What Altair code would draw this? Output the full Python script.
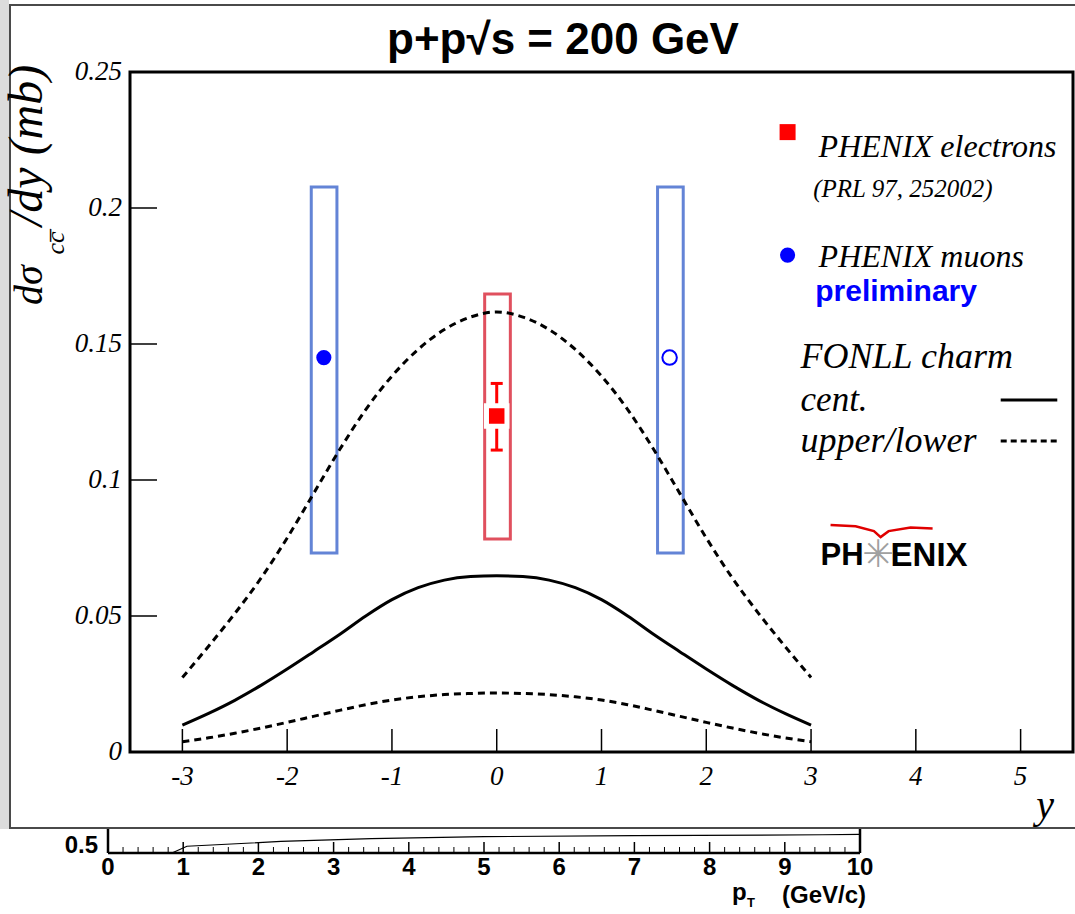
import altair as alt
import pandas as pd

# ---------------- data ----------------
rap = [-3.0, -2.75, -2.5, -2.25, -2.0, -1.75, -1.5, -1.25, -1.0, -0.75, -0.5, -0.25, 0.0,
       0.25, 0.5, 0.75, 1.0, 1.25, 1.5, 1.75, 2.0, 2.25, 2.5, 2.75, 3.0]
fonll_cent = [0.0099, 0.0142, 0.0190, 0.0245, 0.0305, 0.0368, 0.0432, 0.0500, 0.0560, 0.0604, 0.0632, 0.0645, 0.0648,
              0.0645, 0.0632, 0.0604, 0.0560, 0.0500, 0.0432, 0.0368, 0.0305, 0.0245, 0.0190, 0.0142, 0.0099]
fonll_upper = [0.0274, 0.0389, 0.0509, 0.0639, 0.0787, 0.0949, 0.1111, 0.1259, 0.1382, 0.1480, 0.1553, 0.1599, 0.1618,
               0.1599, 0.1553, 0.1480, 0.1382, 0.1259, 0.1111, 0.0949, 0.0787, 0.0639, 0.0509, 0.0389, 0.0274]
fonll_lower = [0.0038, 0.0052, 0.0069, 0.0088, 0.0109, 0.0131, 0.0153, 0.0174, 0.0191, 0.0203, 0.0211, 0.0215, 0.0217,
               0.0215, 0.0211, 0.0203, 0.0191, 0.0174, 0.0153, 0.0131, 0.0109, 0.0088, 0.0069, 0.0052, 0.0038]

muon_y = [-1.65, 1.65]
muon_val = [0.145, 0.145]
muon_sys_lo = [0.0732, 0.0732]
muon_sys_hi = [0.2077, 0.2077]
muon_box_x1 = [-1.77, 1.535]
muon_box_x2 = [-1.525, 1.78]

ele_y = [0.0]
ele_val = [0.1235]
ele_stat_lo = [0.111]
ele_stat_hi = [0.1355]
ele_sys_lo = [0.0783]
ele_sys_hi = [0.1684]
ele_box_x1 = [-0.115]
ele_box_x2 = [0.13]

x_ticks = [-3, -2, -1, 0, 1, 2, 3, 4, 5]
x_tick_labels = ["-3", "-2", "-1", "0", "1", "2", "3", "4", "5"]
y_ticks = [0, 0.05, 0.1, 0.15, 0.2, 0.25]
y_tick_labels = ["0", "0.05", "0.1", "0.15", "0.2", "0.25"]

# legend / annotation positions (data coordinates)
leg_marker_x = [2.776]
leg_ele_y = [0.2279]
leg_muon_y = [0.1827]
leg_text_x = 3.072
leg_cent_y = 0.1294
leg_ul_y = 0.1143
leg_line_x1 = 4.81
leg_line_x2 = 5.35

logo_swoosh_x = [3.186, 3.425, 3.600, 3.664, 3.740, 3.950, 4.160]
logo_swoosh_y = [0.0835, 0.0830, 0.0812, 0.0790, 0.0812, 0.0825, 0.0822]

# fragment of the neighbouring plot at the bottom of the screenshot
strip_ticks = [0, 1, 2, 3, 4, 5, 6, 7, 8, 9, 10]
strip_curve_x = [0.85, 1.05, 2.3, 3.5, 5.0, 7.0, 9.5, 10.0]
strip_curve_y = [0.47, 0.505, 0.53, 0.545, 0.555, 0.56, 0.565, 0.567]

# ---------------- chart ----------------
SERIF = "Liberation Serif"
SANS = "Liberation Sans"
NARROW = "Liberation Sans Narrow, Liberation Sans"
X = alt.Scale(domain=[-3.5, 5.5], nice=False, zero=False)
Y = alt.Scale(domain=[0, 0.25], nice=False, zero=False)
one = pd.DataFrame({"a": [0]})

curves = pd.DataFrame({"rap": rap, "cent": fonll_cent, "upper": fonll_upper, "lower": fonll_lower})

cent = alt.Chart(curves).mark_line(color="black", strokeWidth=3, interpolate="monotone").encode(
    x=alt.X("rap:Q", scale=X, axis=None), y=alt.Y("cent:Q", scale=Y, axis=None))
upper = alt.Chart(curves).mark_line(color="black", strokeWidth=3, strokeDash=[7, 5], interpolate="monotone").encode(
    x=alt.X("rap:Q", scale=X, axis=None), y=alt.Y("upper:Q", scale=Y, axis=None))
lower = alt.Chart(curves).mark_line(color="black", strokeWidth=3, strokeDash=[7, 5], interpolate="monotone").encode(
    x=alt.X("rap:Q", scale=X, axis=None), y=alt.Y("lower:Q", scale=Y, axis=None))

# axis ticks (drawn inward like the original) and labels
yt = pd.DataFrame({"v": y_ticks, "t": y_tick_labels})
ytick = alt.Chart(yt).transform_filter("datum.v > 0 && datum.v < 0.25").mark_rule(
    color="black", strokeWidth=1.5).encode(
    y=alt.Y("v:Q", scale=Y, axis=None), x=alt.value(0), x2=alt.value(27))
ylab = alt.Chart(yt).mark_text(font=SERIF, fontStyle="italic", fontSize=27, align="right",
                               baseline="middle", color="black").encode(
    y=alt.Y("v:Q", scale=Y, axis=None), x=alt.value(-8), text="t:N")
xt = pd.DataFrame({"v": x_ticks, "t": x_tick_labels})
xtick = alt.Chart(xt).mark_rule(color="black", strokeWidth=1.5).encode(
    x=alt.X("v:Q", scale=X, axis=None), y=alt.value(680), y2=alt.value(657))
xlab = alt.Chart(xt).mark_text(font=SERIF, fontStyle="italic", fontSize=27, align="center",
                               baseline="top", color="black").encode(
    x=alt.X("v:Q", scale=X, axis=None), y=alt.value(692), text="t:N")

muons = pd.DataFrame({"y": muon_y, "v": muon_val, "lo": muon_sys_lo, "hi": muon_sys_hi,
                      "x1": muon_box_x1, "x2": muon_box_x2, "kind": ["filled", "open"]})
mbox = alt.Chart(muons).mark_rect(filled=False, stroke="#6384d6", strokeWidth=3).encode(
    x=alt.X("x1:Q", scale=X, axis=None), x2="x2:Q", y=alt.Y("lo:Q", scale=Y, axis=None), y2="hi:Q")
mfill = alt.Chart(muons).transform_filter("datum.kind == 'filled'").mark_point(
    shape="circle", filled=True, color="#0000ff", size=230, opacity=1).encode(
    x=alt.X("y:Q", scale=X, axis=None), y=alt.Y("v:Q", scale=Y, axis=None))
mopen = alt.Chart(muons).transform_filter("datum.kind == 'open'").mark_point(
    shape="circle", filled=False, color="#0000ff", strokeWidth=2, size=210, opacity=1).encode(
    x=alt.X("y:Q", scale=X, axis=None), y=alt.Y("v:Q", scale=Y, axis=None))

ele = pd.DataFrame({"y": ele_y, "v": ele_val, "slo": ele_stat_lo, "shi": ele_stat_hi,
                    "lo": ele_sys_lo, "hi": ele_sys_hi, "x1": ele_box_x1, "x2": ele_box_x2})
ebox = alt.Chart(ele).mark_rect(filled=False, stroke="#e0505e", strokeWidth=3).encode(
    x=alt.X("x1:Q", scale=X, axis=None), x2="x2:Q", y=alt.Y("lo:Q", scale=Y, axis=None), y2="hi:Q")
ebar = alt.Chart(ele).mark_rule(color="#ff0000", strokeWidth=3).encode(
    x=alt.X("y:Q", scale=X, axis=None), y=alt.Y("slo:Q", scale=Y, axis=None), y2="shi:Q")
ecap_lo = alt.Chart(ele).mark_point(shape="M -1 0 L 1 0", size=144, filled=False, color="#ff0000",
                                    strokeWidth=3, opacity=1).encode(
    x=alt.X("y:Q", scale=X, axis=None), y=alt.Y("slo:Q", scale=Y, axis=None))
ecap_hi = alt.Chart(ele).mark_point(shape="M -1 0 L 1 0", size=144, filled=False, color="#ff0000",
                                    strokeWidth=3, opacity=1).encode(
    x=alt.X("y:Q", scale=X, axis=None), y=alt.Y("shi:Q", scale=Y, axis=None))
esq = alt.Chart(ele).mark_point(shape="square", filled=True, color="#ff0000", size=420, opacity=1,
                                stroke="white", strokeWidth=5).encode(
    x=alt.X("y:Q", scale=X, axis=None), y=alt.Y("v:Q", scale=Y, axis=None))

# legend
lg_sq = alt.Chart(pd.DataFrame({"x": leg_marker_x, "y": leg_ele_y})).mark_point(
    shape="square", filled=True, color="#ff0000", size=256, opacity=1).encode(
    x=alt.X("x:Q", scale=X, axis=None), y=alt.Y("y:Q", scale=Y, axis=None))
lg_ci = alt.Chart(pd.DataFrame({"x": leg_marker_x, "y": leg_muon_y})).mark_point(
    shape="circle", filled=True, color="#0000ff", size=230, opacity=1).encode(
    x=alt.X("x:Q", scale=X, axis=None), y=alt.Y("y:Q", scale=Y, axis=None))


def txt(x, y, text, align="left", **kw):
    d = pd.DataFrame({"x": [x], "y": [y], "t": [text]})
    return alt.Chart(d).mark_text(align=align, baseline="middle", **kw).encode(
        x=alt.X("x:Q", scale=X, axis=None), y=alt.Y("y:Q", scale=Y, axis=None), text="t:N")


leg_texts = [
    txt(leg_text_x, 0.2224, "PHENIX electrons", font=SERIF, fontStyle="italic", fontSize=32, color="black"),
    txt(3.02, 0.2070, "(PRL 97, 252002)", font=SERIF, fontStyle="italic", fontSize=25, color="black"),
    txt(leg_text_x, 0.1820, "PHENIX muons", font=SERIF, fontStyle="italic", fontSize=32, color="black"),
    txt(3.04, 0.1691, "preliminary", font=SANS, fontWeight="bold", fontSize=30, color="#0000ff"),
    txt(2.90, 0.1452, "FONLL charm", font=SERIF, fontStyle="italic", fontSize=36, color="black"),
    txt(2.90, leg_cent_y, "cent.", font=SERIF, fontStyle="italic", fontSize=35, color="black"),
    txt(2.90, leg_ul_y, "upper/lower", font=SERIF, fontStyle="italic", fontSize=36, color="black"),
]
lg_lines = pd.DataFrame({"x1": [leg_line_x1, leg_line_x1], "x2": [leg_line_x2, leg_line_x2],
                         "y": [leg_cent_y, leg_ul_y], "k": ["c", "u"]})
lg_solid = alt.Chart(lg_lines).transform_filter("datum.k == 'c'").mark_rule(color="black", strokeWidth=3).encode(
    x=alt.X("x1:Q", scale=X, axis=None), x2="x2:Q", y=alt.Y("y:Q", scale=Y, axis=None))
lg_dash = alt.Chart(lg_lines).transform_filter("datum.k == 'u'").mark_rule(
    color="black", strokeWidth=3, strokeDash=[6, 4]).encode(
    x=alt.X("x1:Q", scale=X, axis=None), x2="x2:Q", y=alt.Y("y:Q", scale=Y, axis=None))

# PHENIX logo
logo = [
    txt(3.091, 0.0721, "PH", font=SANS, fontWeight="bold", fontSize=31, color="black"),
    txt(3.759, 0.0721, "ENIX", font=SANS, fontWeight="bold", fontSize=33, color="black"),
    txt(3.640, 0.0721, "\u2733", align="center", font="DejaVu Sans", fontSize=38, color="#a0a0a0"),
]
swoosh = alt.Chart(pd.DataFrame({"x": logo_swoosh_x, "y": logo_swoosh_y})).mark_line(
    color="#e00000", strokeWidth=2.5).encode(
    x=alt.X("x:Q", scale=X, axis=None), y=alt.Y("y:Q", scale=Y, axis=None))


def ptxt(px, py, text, **kw):
    return alt.Chart(one).mark_text(text=text, **kw).encode(x=alt.value(px), y=alt.value(py))


title = ptxt(433, -31, "p+p\u221as = 200 GeV", font=SANS, fontWeight="bold", fontSize=44,
             align="center", baseline="middle", color="black")
ytitle1 = ptxt(-100, 233, "d\u03c3", font=SERIF, fontStyle="italic", fontSize=40, angle=270,
               align="left", baseline="middle", color="black")
ytitle_sub = ptxt(-74, 171, "cc\u0305", font=SERIF, fontStyle="italic", fontSize=26, angle=270,
                  align="center", baseline="middle", color="black")
ytitle2 = ptxt(-102, 154, "/dy  (mb)", font=SERIF, fontStyle="italic", fontSize=48, angle=270,
               align="left", baseline="middle", color="black")
xtitle = ptxt(915, 734, "y", font=SERIF, fontStyle="italic", fontSize=40,
              align="center", baseline="middle", color="black")

# screenshot canvas frame
canvas = alt.Chart(one).mark_rect(filled=False, stroke="#4a4a4a", strokeWidth=2).encode(
    x=alt.value(-120), x2=alt.value(960), y=alt.value(-67), y2=alt.value(756))
side = alt.Chart(one).mark_rect(color="#dcdcdc").encode(
    x=alt.value(-130), x2=alt.value(-121), y=alt.value(-72), y2=alt.value(757))

main = alt.layer(side, canvas, mbox, ebox, upper, lower, cent, ytick, xtick, ylab, xlab, ebar, ecap_lo,
                 ecap_hi, esq, mfill, mopen, lg_sq, lg_ci, lg_solid, lg_dash, swoosh, *leg_texts, *logo,
                 title, ytitle1, ytitle_sub, ytitle2, xtitle)

# bottom fragment of the neighbouring plot
SX = alt.Scale(domain=[0, 10], range=[-22, 730], nice=False, zero=False)
SY = alt.Scale(domain=[0.47, 0.6], range=[781, 756], nice=False, zero=False)
sfr = pd.DataFrame({"u": [0], "u2": [10]})
s_bottom = alt.Chart(sfr).mark_rule(color="black", strokeWidth=2.5).encode(
    x=alt.X("u:Q", scale=SX, axis=None), x2="u2:Q", y=alt.value(781))
s_sides = alt.Chart(pd.DataFrame({"u": [0, 10]})).mark_rule(color="black", strokeWidth=2.5).encode(
    x=alt.X("u:Q", scale=SX, axis=None), y=alt.value(757), y2=alt.value(781))
s_major = alt.Chart(pd.DataFrame({"u": strip_ticks})).mark_rule(color="black", strokeWidth=1.5).encode(
    x=alt.X("u:Q", scale=SX, axis=None), y=alt.value(770), y2=alt.value(781))
s_minor = alt.Chart(pd.DataFrame({"u": [t + f for t in strip_ticks[:-1] for f in (0.2, 0.4, 0.6, 0.8)]})).mark_rule(
    color="black", strokeWidth=1).encode(
    x=alt.X("u:Q", scale=SX, axis=None), y=alt.value(775), y2=alt.value(781))
s_labels = alt.Chart(pd.DataFrame({"u": strip_ticks, "t": [str(t) for t in strip_ticks]})).mark_text(
    font=NARROW, fontWeight="bold", fontSize=24, baseline="middle",
    align="center", color="black").encode(
    x=alt.X("u:Q", scale=SX, axis=None), y=alt.value(796), text="t:N")
s_curve = alt.Chart(pd.DataFrame({"u": strip_curve_x, "v": strip_curve_y})).mark_line(
    color="black", strokeWidth=1.2).encode(
    x=alt.X("u:Q", scale=SX, axis=None), y=alt.Y("v:Q", scale=SY, axis=None))
s_05 = ptxt(-32, 774, "0.5", font=NARROW, fontWeight="bold", fontSize=24,
            align="right", baseline="middle", color="black")
s_pt = ptxt(736, 824, "(GeV/c)", font=NARROW, fontWeight="bold", fontSize=24,
            align="right", baseline="middle", color="black")
s_p = ptxt(602, 821, "p", font=NARROW, fontWeight="bold", fontSize=24,
           align="left", baseline="middle", color="black")
s_T = ptxt(617, 831, "T", font=SANS, fontWeight="bold", fontSize=13, align="left",
           baseline="middle", color="black")

strip = alt.layer(s_curve, s_bottom, s_sides, s_major, s_minor, s_labels, s_05, s_pt, s_p, s_T)

chart = alt.layer(main, strip).resolve_scale(x="independent", y="independent").properties(
    width=943, height=680,
    padding={"left": 130, "top": 72, "right": 2, "bottom": 162},
    autosize=alt.AutoSizeParams(type="none"),
    background="white",
).configure_view(stroke="black", strokeWidth=3)

chart.save("out.html", embed_options={"renderer": "svg", "actions": False})
